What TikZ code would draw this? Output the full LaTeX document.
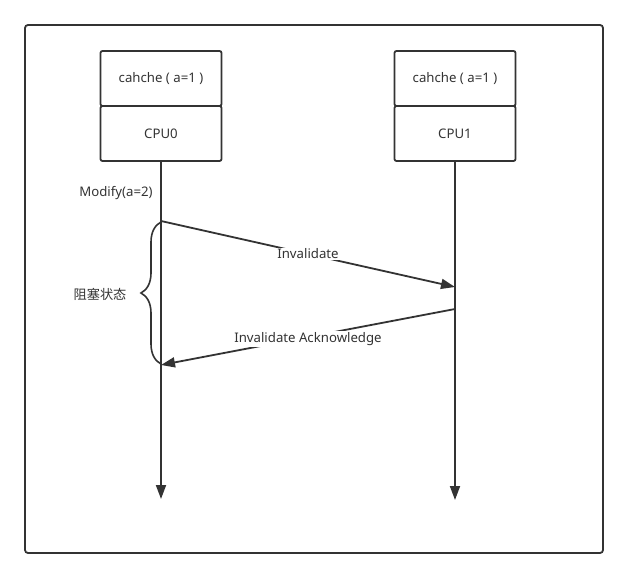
\documentclass[tikz,border=0pt]{standalone}
\usepackage{fontspec}
\setmainfont{Noto Sans}
\newfontfamily\cjk{Noto Sans CJK SC}
\usetikzlibrary{arrows.meta,decorations.pathreplacing}
\definecolor{ink}{HTML}{333333}
\tikzset{
  line/.style={line width=1.8pt, color=ink},
  box/.style={draw=ink, line width=1.8pt, rounded corners=2pt, minimum width=121pt,
              minimum height=55pt, inner sep=0pt, text=ink, font=\fontsize{13.2}{15}\selectfont},
  msg/.style={line, -{Triangle[length=14pt,width=10pt]}},
  lbl/.style={font=\fontsize{13.2}{15}\selectfont, text=ink, inner sep=1pt},
}

\begin{document}
\begin{tikzpicture}[x=1pt,y=-1pt]
  \useasboundingbox (0,0) rectangle (627,580);
  \draw[line, rounded corners=3pt] (25,25) rectangle (603,553);   % outer frame

  % processors
  \node[box] (cache0) at (161,78.5) {cahche ( a=1 )};
  \node[box] (cpu0)   at (161,133.5) {CPU0};
  \node[box] (cache1) at (455,78.5) {cahche ( a=1 )};
  \node[box] (cpu1)   at (455,133.5) {CPU1};

  % lifelines
  \coordinate (end0) at (161,499);
  \coordinate (end1) at (455,500);
  \draw[msg] (cpu0.south) -- (end0);
  \draw[msg] (cpu1.south) -- (end1);

  % messages
  \coordinate (inv0) at (161,221);
  \coordinate (inv1) at (455,287);
  \coordinate (ack1) at (455,309);
  \coordinate (ack0) at (161,365);
  \node[lbl] (mod) at (116,193) {Modify(a=2)};
  \draw[msg] (inv0) -- node[lbl, fill=white, pos=0.5] (invl) {Invalidate} (inv1);
  \draw[msg] (ack1) -- node[lbl, fill=white, pos=0.5, yshift=-2pt] (ackl) {Invalidate Acknowledge} (ack0);

  % blocked interval
  \draw[line, line width=1.6pt, decorate, decoration={brace, amplitude=20pt}] (161,364) -- (161,222);
  \node[lbl] (blk) at (100,294) {\cjk 阻塞状态};
\end{tikzpicture}
\end{document}
